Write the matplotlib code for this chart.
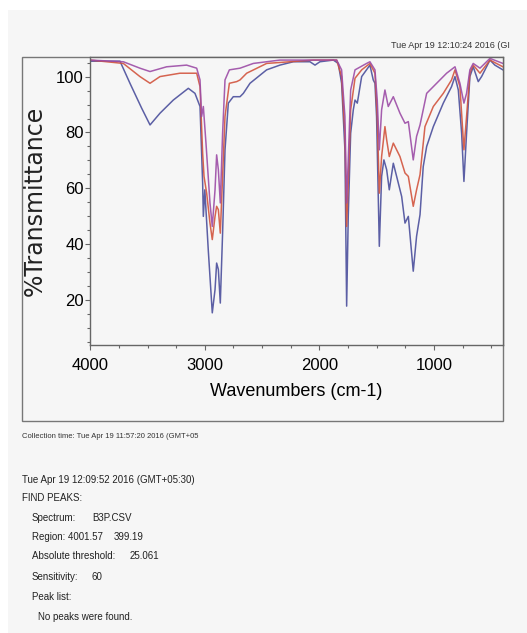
import matplotlib
matplotlib.use("Agg")
import matplotlib.pyplot as plt
from matplotlib.patches import Rectangle
from matplotlib.ticker import MultipleLocator

# spectra: (wavenumber, %T)
wn_blue = [4001, 3740, 3653, 3551, 3478, 3391, 3275, 3144, 3086, 3042, 3019, 3013, 3000,
           2970, 2935, 2911, 2897, 2882, 2865, 2845, 2824, 2795, 2752, 2693, 2664, 2606,
           2461, 2345, 2228, 2083, 2039, 1996, 1879, 1836, 1807, 1778, 1763, 1749, 1728,
           1705, 1690, 1670, 1632, 1560, 1531, 1516, 1502, 1478, 1458, 1438, 1414, 1391,
           1356, 1327, 1283, 1254, 1225, 1182, 1153, 1123, 1095, 1065, 1007, 920, 848,
           818, 789, 760, 740, 717, 688, 659, 615, 586, 513, 470, 400]
t_blue = [105.5, 105.5, 97.6, 88.7, 82.7, 86.9, 91.6, 95.8, 94.0, 89.3, 61.9, 50.0, 59.5,
          38.0, 15.5, 23.8, 33.3, 31.0, 19.0, 44.0, 73.8, 90.5, 92.8, 92.8, 94.0, 97.6,
          102.4, 104.1, 105.3, 105.3, 104.1, 105.3, 105.9, 104.7, 97.6, 73.8, 17.9, 50.0, 79.7,
          88.1, 91.6, 90.5, 100.0, 104.1, 98.8, 97.6, 85.7, 39.3, 64.3, 70.2, 66.7, 59.5,
          69.0, 64.3, 57.1, 47.6, 50.0, 30.4, 42.9, 50.6, 67.8, 75.0, 82.1, 90.5, 96.4,
          100.0, 95.2, 79.7, 62.5, 79.7, 100.0, 103.5, 98.2, 100.0, 105.9, 104.1, 102.4]

wn_red = [4001, 3711, 3566, 3478, 3391, 3217, 3071, 3042, 3019, 3007, 2984, 2955, 2935,
          2911, 2897, 2882, 2865, 2845, 2824, 2786, 2722, 2693, 2635, 2461, 2054, 1850,
          1807, 1778, 1763, 1749, 1728, 1690, 1632, 1560, 1516, 1496, 1478, 1458, 1429,
          1414, 1391, 1356, 1298, 1254, 1225, 1182, 1153, 1123, 1080, 1007, 920, 848, 818,
          775, 740, 717, 688, 659, 600, 513, 400]
t_red = [105.9, 104.7, 100.0, 97.6, 100.0, 101.2, 101.2, 96.4, 72.6, 64.3, 58.3, 47.6, 41.7,
         50.0, 53.6, 52.4, 44.0, 64.3, 85.7, 97.6, 98.2, 98.8, 101.2, 104.7, 105.9, 105.9,
         100.0, 79.7, 46.4, 61.9, 88.1, 99.4, 102.4, 104.7, 101.2, 85.7, 58.3, 71.4, 82.1,
         77.4, 71.4, 76.2, 71.4, 65.5, 64.3, 53.6, 59.5, 64.9, 82.1, 89.3, 94.0, 98.8, 102.4,
         96.4, 73.8, 85.7, 101.2, 104.1, 101.2, 105.9, 103.5]

wn_purple = [4001, 3711, 3566, 3478, 3333, 3159, 3071, 3042, 3028, 3013, 2990, 2955, 2935,
             2911, 2897, 2882, 2865, 2845, 2824, 2786, 2693, 2577, 2345, 1850, 1807, 1778,
             1763, 1749, 1728, 1690, 1589, 1560, 1516, 1496, 1478, 1458, 1429, 1400, 1356,
             1298, 1254, 1225, 1182, 1153, 1123, 1065, 978, 891, 818, 775, 740, 717, 688,
             659, 600, 513, 400]
t_purple = [105.9, 105.3, 103.0, 101.8, 103.5, 104.1, 103.0, 98.8, 85.7, 89.3, 76.2, 54.8, 46.4,
            59.5, 72.0, 66.7, 54.8, 79.7, 98.8, 102.4, 103.0, 104.7, 105.9, 105.9, 102.4, 85.7,
            54.8, 70.2, 95.2, 102.4, 104.7, 105.3, 102.4, 91.6, 73.8, 88.1, 95.2, 89.3, 92.8,
            86.9, 83.3, 83.9, 70.2, 78.6, 82.7, 94.0, 97.6, 101.2, 103.5, 97.6, 90.5, 94.0, 102.4,
            104.7, 103.0, 106.5, 104.7]

yticks = [20, 40, 60, 80, 100]
xticks = [4000, 3000, 2000, 1000]

narrow = ['Liberation Sans Narrow', 'Liberation Sans', 'DejaVu Sans']
bg = '#f6f6f6'

fig = plt.figure(figsize=(5.27, 6.33), dpi=100, facecolor='white')

# grey page area
fig.patches.append(Rectangle((8 / 527, 0), 1, 1 - 10 / 633, transform=fig.transFigure,
                             facecolor=bg, edgecolor='none', zorder=-10))
# outer frame round the plot
fig.patches.append(Rectangle((22 / 527, 1 - 421 / 633), (503 - 22) / 527, (421 - 57) / 633,
                             transform=fig.transFigure, facecolor='none',
                             edgecolor='#777777', linewidth=1.0, zorder=-5))

ax = fig.add_axes([90 / 527, 1 - 345 / 633, (503 - 90) / 527, (345 - 57) / 633])
ax.set_facecolor(bg)

ax.plot(wn_blue, t_blue, color='#4b4f9c', lw=1.1, alpha=0.9)
ax.plot(wn_red, t_red, color='#d2543e', lw=1.1, alpha=0.9)
ax.plot(wn_purple, t_purple, color='#9c4ca6', lw=1.1, alpha=0.9)

ax.set_xlim(4001.57, 399.19)
ax.set_ylim(4, 107)
ax.set_xticks(xticks)
ax.set_yticks(yticks)
ax.xaxis.set_minor_locator(MultipleLocator(250))
ax.yaxis.set_minor_locator(MultipleLocator(5))
ax.tick_params(which='both', direction='out', color='#666666', width=0.8)
ax.tick_params(which='major', length=3.5)
ax.tick_params(which='minor', length=2.5)
ax.tick_params(axis='x', pad=6)
ax.tick_params(axis='y', pad=1)
for lab in ax.get_xticklabels() + ax.get_yticklabels():
    lab.set_family(narrow)
    lab.set_fontsize(12)
for s in ax.spines.values():
    s.set_color('#666666')
    s.set_linewidth(1.0)

ax.set_xlabel('Wavenumbers (cm-1)', family=narrow, fontsize=13, labelpad=7)
fig.text(35 / 527, 1 - 201 / 633, '%Transmittance', rotation=90, ha='center', va='center',
         family='DejaVu Sans', fontsize=17, color='#222222')

fig.text(510 / 527, 1 - 45 / 633, 'Tue Apr 19 12:10:24 2016 (GI', ha='right', va='center',
         family=narrow, fontsize=6.5, color='#333333')
fig.text(22 / 527, 1 - 436 / 633, 'Collection time: Tue Apr 19 11:57:20 2016 (GMT+05',
         ha='left', va='center', family=narrow, fontsize=5.5, color='#333333')

lines = [
    (22, 480, 'Tue Apr 19 12:09:52 2016 (GMT+05:30)'),
    (22, 498, 'FIND PEAKS:'),
    (32, 518, 'Spectrum:'), (92, 518, 'B3P.CSV'),
    (32, 537, 'Region: 4001.57'), (114, 537, '399.19'),
    (32, 556, 'Absolute threshold:'), (130, 556, '25.061'),
    (32, 577, 'Sensitivity:'), (92, 577, '60'),
    (32, 597, 'Peak list:'),
    (38, 617, 'No peaks were found.'),
]
for x, y, s in lines:
    fig.text(x / 527, 1 - y / 633, s, ha='left', va='center', family=narrow,
             fontsize=7, color='#222222')

fig.savefig('out.png', dpi=100, facecolor='white')
